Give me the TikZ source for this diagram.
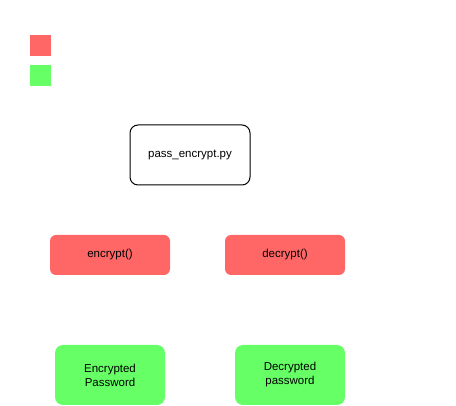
\documentclass[tikz,border=0pt]{standalone}
\usepackage{fontspec}
\setmainfont{Liberation Sans}
\definecolor{redfill}{HTML}{FF6666}
\definecolor{greenfill}{HTML}{66FF66}
\begin{document}
\begin{tikzpicture}[x=1pt,y=-1pt,
  lbl/.style={font=\fontsize{11.5}{14}\selectfont, align=center, inner sep=0pt},
  mainbox/.style={lbl, draw=black, line width=1pt, fill=white, rounded corners=8pt, minimum width=120pt, minimum height=60pt},
  funcbox/.style={lbl, fill=redfill, rounded corners=6pt, minimum width=120pt, minimum height=40pt},
  outbox/.style={lbl, fill=greenfill, rounded corners=8pt, minimum width=110pt, minimum height=60pt},
  legendbox/.style={fill=#1, inner sep=0pt, minimum size=21pt}]
\useasboundingbox (0,0) rectangle (456,406);
\node[legendbox=redfill] (lr) at (40.5,45.5) {};
\node[legendbox=greenfill] (lg) at (40.5,75.5) {};
\node[mainbox] (main) at (190,155) {pass\_encrypt.py};
\node[funcbox] (enc) at (110,255) {encrypt()};
\node[funcbox] (dec) at (285,255) {decrypt()};
\node[outbox] (encpw) at (110,375) {Encrypted\\Password};
\node[outbox] (decpw) at (290,375) {Decrypted\\password};
\end{tikzpicture}
\end{document}
